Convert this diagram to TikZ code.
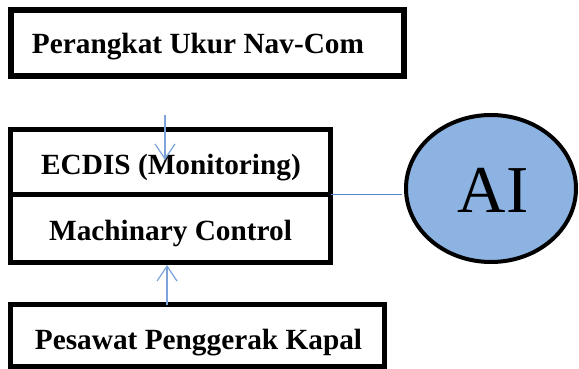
\documentclass[tikz,border=0pt]{standalone}
\usepackage{fontspec}
\setmainfont{Liberation Serif}
\usetikzlibrary{arrows.meta,shapes.geometric}
\definecolor{linkblue}{RGB}{88,136,206}
\definecolor{arrowblue}{RGB}{124,164,218}
\definecolor{aifill}{RGB}{141,179,226}
\tikzset{
  unitbox/.style={draw=black, rectangle, inner sep=0pt, outer sep=0pt},
  boxlabel/.style={inner sep=0pt, outer sep=0pt, anchor=base,
    font=\fontsize{29.3}{29.3}\selectfont\bfseries},
  flow/.style={draw=linkblue, line width=1.3pt},
  flowhead/.style={draw=arrowblue, line width=1.4pt,
    -{Straight Barb[length=15pt,width=20pt,line width=1.2pt]}},
}
\begin{document}
\begin{tikzpicture}[x=1pt, y=-1pt]
\useasboundingbox (0,0) rectangle (579,369);

% boxes
\node[unitbox, line width=6pt, minimum width=393pt, minimum height=66pt] (nav) at (207.5,43) {};
\node[unitbox, line width=5pt, minimum width=320pt, minimum height=65pt] (ecdis) at (170.5,162) {};
\node[unitbox, line width=5pt, minimum width=320pt, minimum height=68pt] (machine) at (170.5,228.5) {};
\node[unitbox, line width=5pt, minimum width=374pt, minimum height=62pt] (engine) at (197.5,335.5) {};

% AI ellipse
\node[ellipse, draw=black, fill=aifill, line width=4pt, inner sep=0pt,
      minimum width=170pt, minimum height=147pt] (ai) at (491,188.5) {};

% labels
\node[boxlabel] (navText) at (198,54) {Perangkat Ukur Nav-Com};
\node[boxlabel] (ecdisText) at (171,174) {ECDIS (Monitoring)};
\node[boxlabel] (machineText) at (170.5,240.5) {Machinary Control};
\node[boxlabel] (engineText) at (198.5,349) {Pesawat Penggerak Kapal};
\node[inner sep=0pt, anchor=base, font=\fontsize{67}{67}\selectfont] (aiText) at (493,212) {AI};

% connectors
\coordinate (navIn) at (165,115);
\coordinate (navTip) at (165,160);
\draw[flowhead] (navIn) -- (navTip);

\coordinate (engineOut) at (167,304.5);
\coordinate (machineTip) at (167,265);
\draw[flowhead] (engineOut) -- (machineTip);

\coordinate (junction) at (ecdis.south east);
\draw[flow, shorten >=2pt] (junction) -- (junction -| ai.west);
\end{tikzpicture}
\end{document}
